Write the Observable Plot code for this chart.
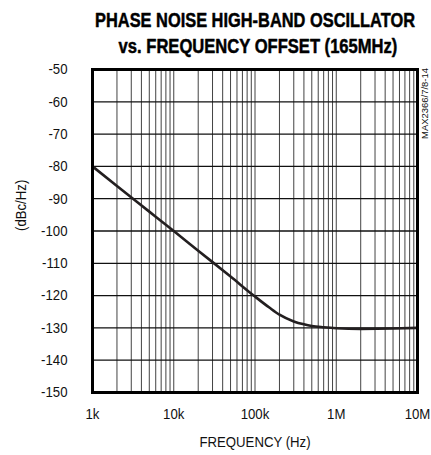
<!DOCTYPE html>
<html>
<head>
<meta charset="utf-8">
<script src="https://cdn.jsdelivr.net/npm/d3@7"></script>
<script src="https://cdn.jsdelivr.net/npm/@observablehq/plot@0.6"></script>
<style>
  html, body { margin: 0; padding: 0; background: #fff; }
  #chart svg { display: block; }
</style>
</head>
<body>
<div id="chart"></div>
<script>
// Data
const freq = [1e3, 2e3, 5e3, 1e4, 2e4, 5e4, 1e5, 1.5e5, 2e5, 3e5, 4e5, 5e5, 7e5, 1e6, 2e6, 5e6, 1e7];
const noise = [-80, -86.1, -94.0, -100.0, -106.1, -114.1, -120.3, -123.7, -125.9, -128.0, -128.9, -129.4, -129.8, -130.1, -130.3, -130.2, -130];
const xTicks = [1e3, 1e4, 1e5, 1e6, 1e7];
const xTickLabels = ["1k", "10k", "100k", "1M", "10M"];
const yTicks = [-150, -140, -130, -120, -110, -100, -90, -80, -70, -60, -50];
const titleLines = ["PHASE NOISE HIGH-BAND OSCILLATOR", "vs. FREQUENCY OFFSET (165MHz)"];
const xLabel = "FREQUENCY (Hz)";
const yLabel = "(dBc/Hz)";
const sideNote = "MAX2366/7/8-14";

const data = freq.map((f, i) => ({f, v: noise[i]}));
const minorX = d3.scaleLog().domain([1e3, 1e7]).ticks();
const font = "'Liberation Sans Narrow', 'Arial Narrow', 'Liberation Sans', sans-serif";

const chart = Plot.plot({
  width: 431,
  height: 455,
  marginLeft: 92,
  marginRight: 14,
  marginTop: 69,
  marginBottom: 63,
  style: {fontFamily: font, fontSize: "15px", color: "#111", background: "#fff"},
  x: {type: "log", domain: [1e3, 1e7]},
  y: {domain: [-150, -50]},
  marks: [
    Plot.ruleX(minorX, {stroke: "#222", strokeWidth: 1, strokeOpacity: 0.85}),
    Plot.ruleY(yTicks, {stroke: "#111", strokeWidth: 1.3}),
    Plot.axisX(xTicks, {tickSize: 0, tickPadding: 16, tickFormat: (d) => xTickLabels[xTicks.indexOf(d)], label: null, fontSize: 15}),
    Plot.axisY(yTicks, {tickSize: 0, tickPadding: 25, label: null, tickFormat: (d) => String(d), fontSize: 15}),
    Plot.line(data, {x: "f", y: "v", stroke: "#231f20", strokeWidth: 2.6, curve: "monotone-x"}),
    Plot.frame({stroke: "#000", strokeWidth: 3}),
    Plot.text([titleLines[0]], {frameAnchor: "top", dy: -57, fontSize: 21, fontWeight: "bold", fill: "#000", stroke: "#000", strokeWidth: 0.5}),
    Plot.text([titleLines[1]], {frameAnchor: "top", dy: -31, fontSize: 21, fontWeight: "bold", fill: "#000", stroke: "#000", strokeWidth: 0.5, dx: 3}),
    Plot.text([xLabel], {frameAnchor: "bottom", dy: 54, fontSize: 15, fill: "#111"}),
    Plot.text([yLabel], {frameAnchor: "left", dx: -71, rotate: -90, fontSize: 15, fill: "#111"}),
    Plot.text([sideNote], {frameAnchor: "top-right", dx: 8, dy: 34, rotate: -90, textAnchor: "middle", lineAnchor: "middle", fontSize: 9, fill: "#111"})
  ]
});
document.getElementById("chart").appendChild(chart);

// Emulate the condensed typeface by compressing each text horizontally (along its own direction)
const targets = new Map([[titleLines[0], 320], [titleLines[1], 279], [sideNote, 71]]);
chart.querySelectorAll("text").forEach((t) => {
  const s = t.textContent;
  const len = t.getComputedTextLength();
  if (!len) return;
  const k = targets.has(s) ? targets.get(s) / len : 0.88;
  const tr = t.getAttribute("transform");
  if (tr && /^translate/.test(tr.trim())) {
    t.setAttribute("transform", tr + ` scale(${k.toFixed(3)},1)`);
  } else {
    t.setAttribute("textLength", (len * k).toFixed(1));
    t.setAttribute("lengthAdjust", "spacingAndGlyphs");
  }
});
</script>
</body>
</html>
